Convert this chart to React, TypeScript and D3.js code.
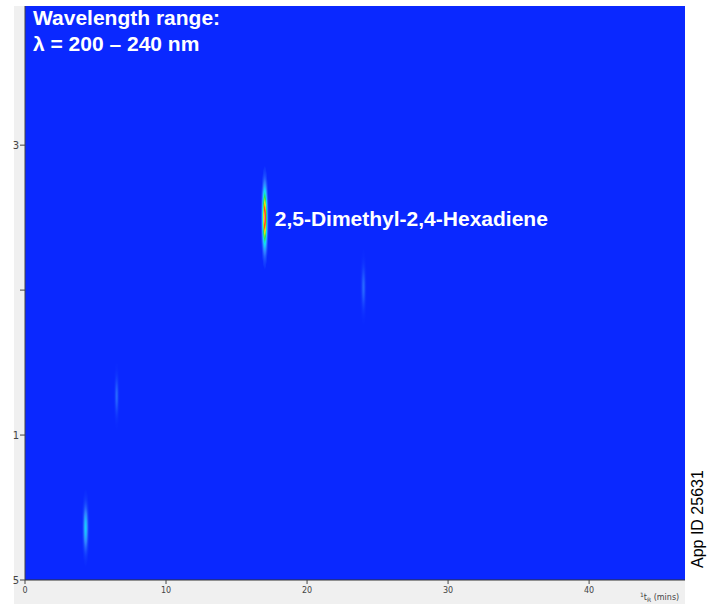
import React from "react";
import * as d3 from "d3";

// ---- data ----
const xTicks = [0, 10, 20, 30, 40];
const yTickValues = [0, 1, 2, 3];
const yTickLabels = ["5", "1", "", "3"];
const peakNames = ["main", "p2", "p3", "p4"];
const peakT1 = [17.0, 24.0, 6.5, 4.3]; // mins
const peakT2 = [2.5, 2.02, 1.27, 0.36]; // second dimension units
const peakIntensity = [1.0, 0.09, 0.09, 0.26];
const peakSigmaT1 = [0.1, 0.09, 0.08, 0.1];
const peakSigmaT2 = [0.12, 0.09, 0.08, 0.09];
const peakLabel = "2,5-Dimethyl-2,4-Hexadiene";
const titleLines = ["Wavelength range:", "λ = 200 – 240 nm"];
const appId = "App ID 25631";

const W = 712;
const H = 607;
const plot = { left: 25, right: 685, top: 6, bottom: 580 };
const BG = "#0a28ff";

const color = d3
  .scaleLinear<string>()
  .domain([0, 0.12, 0.3, 0.5, 0.7, 0.88, 1])
  .range([BG, "#2f7bff", "#10e0ff", "#30dd50", "#f4ee10", "#ff3010", "#ff9080"])
  .interpolate(d3.interpolateRgb)
  .clamp(true);

export default function App() {
  const x = d3.scaleLinear().domain([0, 46.8]).range([plot.left, plot.right]);
  const y = d3.scaleLinear().domain([0, 3.96]).range([plot.bottom, plot.top]);
  const pxPerUnitY = (plot.bottom - plot.top) / 3.96;
  const pxPerUnitX = (plot.right - plot.left) / 46.8;
  const stops = d3.range(0, 1.0001, 0.05);

  return (
    <svg
      width={W}
      height={H}
      style={{ position: "absolute", left: 0, top: 0, background: "#fff" }}
    >
      <defs>
        {peakNames.map((n, i) => (
          <radialGradient key={n} id={`g-${n}`} cx="50%" cy="50%" r="50%">
            {stops.map((r) => {
              const v = r >= 0.999 ? 0 : peakIntensity[i] * Math.exp(-((r * 3) ** 2) / 2);
              return <stop key={r} offset={`${r * 100}%`} stopColor={color(v)} />;
            })}
          </radialGradient>
        ))}
        <clipPath id="plotclip">
          <rect x={plot.left} y={plot.top} width={plot.right - plot.left} height={plot.bottom - plot.top} />
        </clipPath>
      </defs>
      <rect x={14} y={6} width={plot.right - 14} height={604 - 6} fill="#f0f0f0" />
      <rect
        x={plot.left}
        y={plot.top}
        width={plot.right - plot.left}
        height={plot.bottom - plot.top}
        fill={BG}
      />
      <g clipPath="url(#plotclip)">
        {peakNames.map((n, i) => (
          <ellipse
            key={n}
            cx={x(peakT1[i])}
            cy={y(peakT2[i])}
            rx={peakSigmaT1[i] * pxPerUnitX * 3}
            ry={peakSigmaT2[i] * pxPerUnitY * 3}
            fill={`url(#g-${n})`}
          />
        ))}
      </g>
      {/* axes */}
      <line x1={plot.left} x2={plot.left} y1={plot.top} y2={plot.bottom} stroke="#444" strokeWidth={1} />
      <line x1={plot.left} x2={plot.right} y1={plot.bottom} y2={plot.bottom} stroke="#333" strokeWidth={1.2} />
      {yTickValues.map((v, i) => (
        <g key={v}>
          <line x1={plot.left - 5} x2={plot.left} y1={y(v)} y2={y(v)} stroke="#444" />
          <text
            x={plot.left - 6}
            y={y(v) + 3.5}
            textAnchor="end"
            fontFamily="DejaVu Sans, sans-serif"
            fontSize={10}
            fill="#444"
          >
            {yTickLabels[i]}
          </text>
        </g>
      ))}
      {xTicks.map((v) => (
        <g key={v}>
          <line x1={x(v)} x2={x(v)} y1={plot.bottom} y2={plot.bottom + 4} stroke="#444" />
          <text
            x={x(v)}
            y={plot.bottom + 13}
            textAnchor="middle"
            fontFamily="DejaVu Sans, sans-serif"
            fontSize={8}
            fill="#444"
          >
            {v}
          </text>
        </g>
      ))}
      <text x={640} y={600} fontFamily="DejaVu Sans, sans-serif" fontSize={8} fill="#444">
        <tspan fontSize={6} dy={-3}>1</tspan>
        <tspan dy={3}>t</tspan>
        <tspan fontSize={6} dy={2}>R</tspan>
        <tspan dy={-2}> (mins)</tspan>
      </text>
      {/* title */}
      {titleLines.map((t, i) => (
        <text
          key={i}
          x={33}
          y={25 + i * 26}
          fill="#fff"
          fontFamily="Liberation Sans, Arial, sans-serif"
          fontWeight="bold"
          fontSize={21}
        >
          {t}
        </text>
      ))}
      <text
        x={x(peakT1[0]) + 10}
        y={y(peakT2[0]) + 8}
        fill="#fff"
        fontFamily="Liberation Sans, Arial, sans-serif"
        fontWeight="bold"
        fontSize={21}
      >
        {peakLabel}
      </text>
      <text
        transform={`translate(703,568) rotate(-90)`}
        fill="#000"
        fontFamily="Liberation Sans, Arial, sans-serif"
        fontSize={16}
      >
        {appId}
      </text>
    </svg>
  );
}
